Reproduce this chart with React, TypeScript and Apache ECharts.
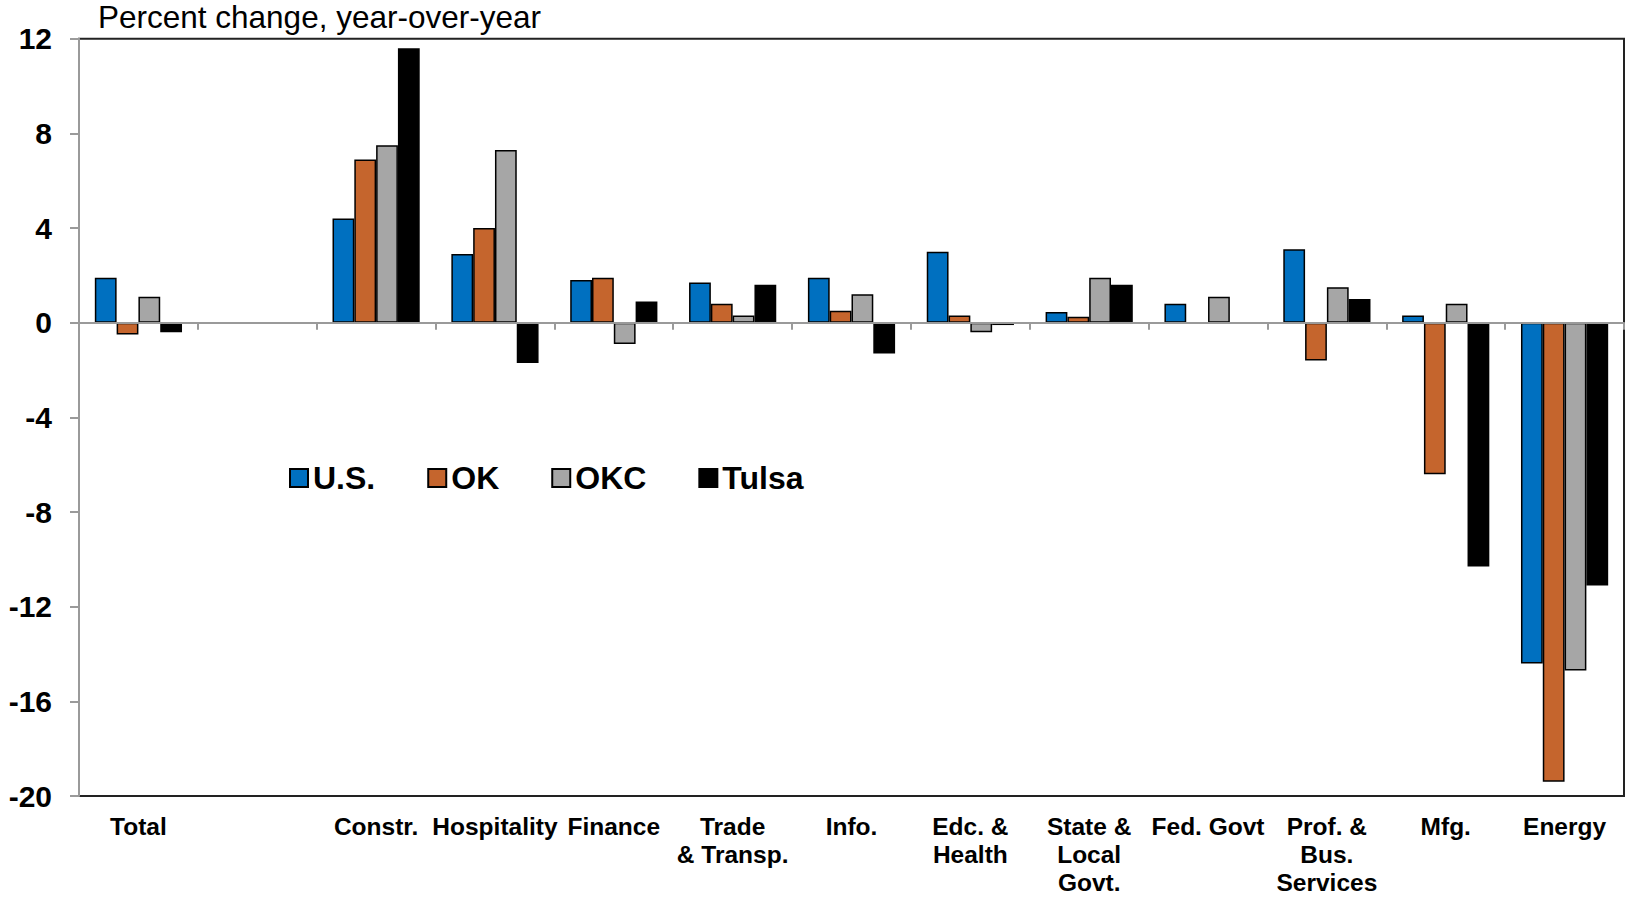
import { useEffect, useRef } from "react";
import * as echarts from "echarts";

const categories = [
  "Total",
  "",
  "Constr.",
  "Hospitality",
  "Finance",
  "Trade\n& Transp.",
  "Info.",
  "Edc. &\nHealth",
  "State &\nLocal\nGovt.",
  "Fed. Govt",
  "Prof. &\nBus.\nServices",
  "Mfg.",
  "Energy",
];
const seriesNames = ["U.S.", "OK", "OKC", "Tulsa"];
const usValues = [1.9, null, 4.4, 2.9, 1.8, 1.7, 1.9, 3.0, 0.45, 0.8, 3.1, 0.3, -14.4];
const okValues = [-0.5, null, 6.9, 4.0, 1.9, 0.8, 0.5, 0.3, 0.25, null, -1.6, -6.4, -19.4];
const okcValues = [1.1, null, 7.5, 7.3, -0.9, 0.3, 1.2, -0.4, 1.9, 1.1, 1.5, 0.8, -14.7];
const tulsaValues = [-0.4, null, 11.6, -1.7, 0.9, 1.6, -1.3, -0.1, 1.6, null, 1.0, -10.3, -11.1];
const seriesColors = ["#0070C0", "#C5652D", "#A6A6A6", "#000000"];
const yMin = -20;
const yMax = 12;
const yInterval = 4;
const titleText = "Percent change, year-over-year";

const FONT = "'Liberation Sans', Arial, sans-serif";

export default function App() {
  const ref = useRef<HTMLDivElement>(null);
  useEffect(() => {
    if (!ref.current) return;
    const chart = echarts.init(ref.current, undefined, { renderer: "svg" });
    const allValues = [usValues, okValues, okcValues, tulsaValues];
    chart.setOption({
      animation: false,
      backgroundColor: "#ffffff",
      textStyle: { fontFamily: FONT },
      title: {
        text: titleText,
        left: 98,
        top: 1,
        padding: 0,
        textStyle: { fontSize: 31.5, fontWeight: "normal", color: "#000", fontFamily: FONT },
      },
      legend: {
        left: 284,
        top: 457,
        itemWidth: 18,
        itemHeight: 18,
        itemGap: 52,
        icon: "rect",
        textStyle: { fontSize: 32, fontWeight: "bold", color: "#000", fontFamily: FONT },
        data: seriesNames,
      },
      grid: {
        left: 79,
        right: 2,
        top: 38.7,
        bottom: 101,
        show: true,
        borderColor: "#222",
        borderWidth: 2,
        backgroundColor: "transparent",
      },
      xAxis: [
        {
          type: "category",
          data: categories,
          position: "bottom",
          axisLine: { onZero: true, lineStyle: { color: "#9a9a9a", width: 2 } },
          axisTick: { show: true, length: 7, lineStyle: { color: "#9a9a9a", width: 2 } },
          axisLabel: { show: false },
          splitLine: { show: false },
          z: 5,
        },
        {
          type: "category",
          data: categories,
          position: "bottom",
          axisLine: { show: false, onZero: false },
          axisTick: { show: false },
          axisLabel: {
            show: true,
            interval: 0,
            margin: 16,
            fontSize: 24.5,
            lineHeight: 28,
            fontWeight: "bold",
            color: "#000",
            fontFamily: FONT,
            align: "center",
          },
        },
      ],
      yAxis: {
        type: "value",
        min: yMin,
        max: yMax,
        interval: yInterval,
        axisLine: { show: true, lineStyle: { color: "#9a9a9a", width: 2 } },
        axisTick: { show: true, length: 9, lineStyle: { color: "#9a9a9a", width: 2 } },
        axisLabel: {
          margin: 27,
          fontSize: 30,
          fontWeight: "bold",
          color: "#000",
          fontFamily: FONT,
        },
        splitLine: { show: false },
        z: 4,
      },
      series: seriesNames.map((name, i) => ({
        name,
        type: "bar",
        xAxisIndex: 0,
        data: allValues[i],
        barWidth: 21.8,
        barGap: "0%",
        itemStyle: { color: seriesColors[i], borderColor: "#000", borderWidth: 1.5 },
        z: 2,
      })),
    });
    return () => chart.dispose();
  }, []);
  return (
    <div
      ref={ref}
      style={{ position: "fixed", left: 0, top: 0, width: 1626, height: 897 }}
    />
  );
}
